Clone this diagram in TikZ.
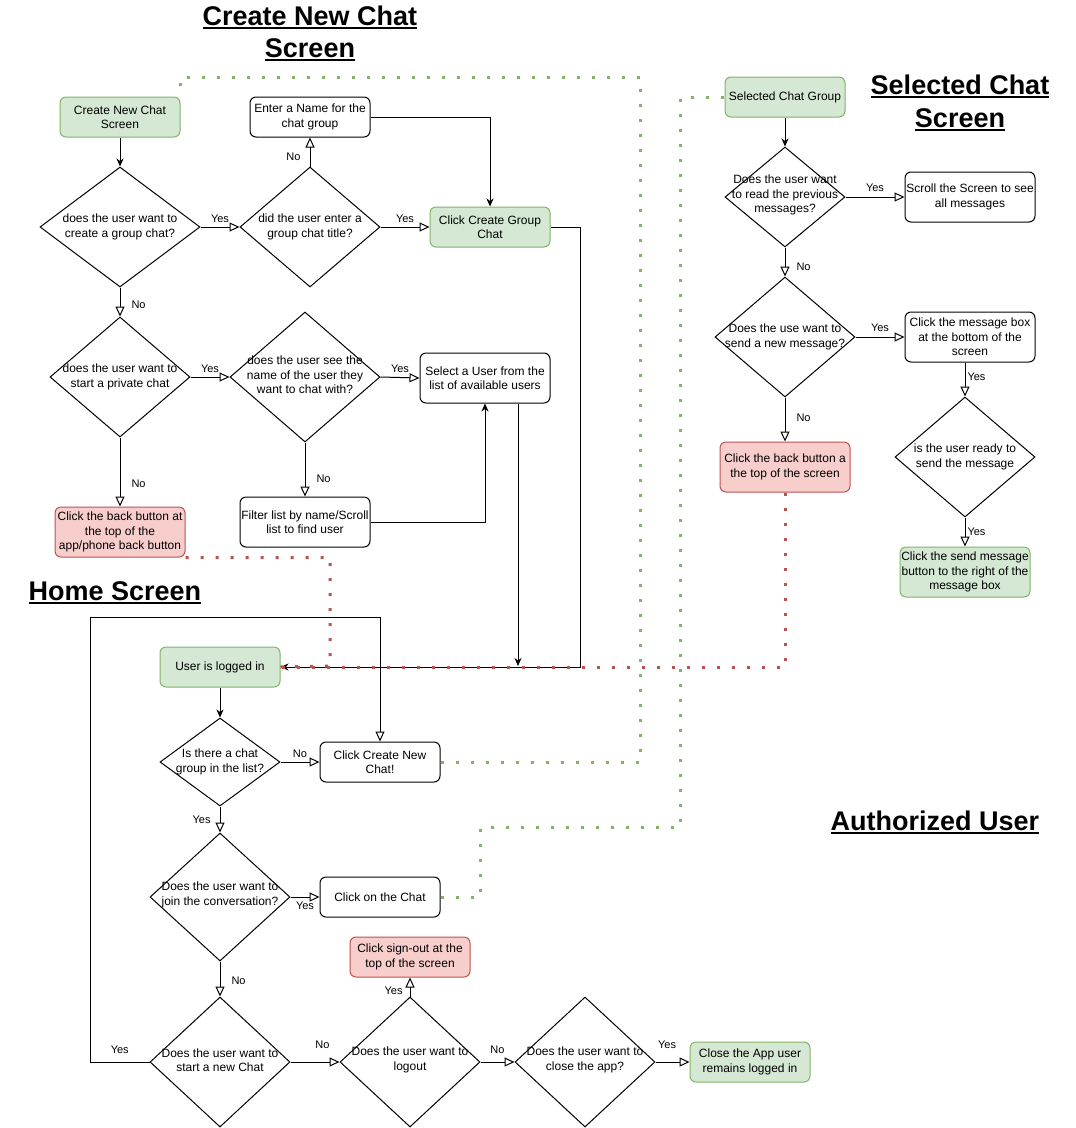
\documentclass[tikz,border=0pt]{standalone}
\usepackage{fontspec}
\setmainfont{Liberation Sans}
\usetikzlibrary{arrows.meta,shapes.geometric,calc}
\definecolor{gfill}{HTML}{D5E8D4}
\definecolor{gline}{HTML}{82B366}
\definecolor{rfill}{HTML}{F8CECC}
\definecolor{rline}{HTML}{B85450}
\newcommand\myul[1]{\setbox0\hbox{#1}\rlap{\rule[-4pt]{\wd0}{2pt}}\box0}
\tikzset{
 box/.style={draw, rounded corners=6pt, minimum width=120, minimum height=40, align=center, inner sep=1pt, font=\fontsize{12}{14.5}\selectfont, line width=1pt},
 gbox/.style={box, fill=gfill, draw=gline},
 rbox/.style={box, fill=rfill, draw=rline},
 dia/.style={draw, diamond, inner sep=0pt, line width=1pt},
 dtxt/.style={align=center, font=\fontsize{12}{14.5}\selectfont, inner sep=0pt},
 lbl/.style={font=\fontsize{11}{13}\selectfont, inner sep=1pt},
 oarr/.style={line width=1pt, -{Triangle[open, length=10pt, width=9pt]}},
 farr/.style={line width=1pt, -{Stealth[length=8pt, width=7pt, inset=2.5pt]}},
 gdot/.style={draw=gline, line width=3pt, dash pattern=on 3pt off 12pt},
 rdot/.style={draw=rline, line width=3pt, dash pattern=on 3pt off 12pt},
 ttl/.style={font=\fontsize{27}{32}\bfseries\selectfont, anchor=base, inner sep=0pt},
}
\begin{document}
\begin{tikzpicture}[x=1pt,y=-1pt]
\useasboundingbox (0,0) rectangle (1076,1128);
\fill[white] (0,0) rectangle (1076,1128);

% titles
\node[ttl] (t1a) at (310,25) {\myul{Create New Chat}};
\node[ttl] (t1b) at (310,57) {\myul{Screen}};
\node[ttl] (t2a) at (960,94) {\myul{Selected Chat}};
\node[ttl] (t2b) at (960,127) {\myul{Screen}};
\node[ttl] (t3) at (115,600) {\myul{Home Screen}};
\node[ttl] (t4) at (935,830) {\myul{Authorized User}};

% ---------- Create New Chat screen ----------
\node[gbox] (n1) at (120,117) {Create New Chat\\Screen};
\node[dia, minimum width=160, minimum height=120] (d1) at (120,227) {};
\node[dtxt] (d1t) at (d1) {does the user want to\\create a group chat?};
\node[dia, minimum width=140, minimum height=120] (d2) at (310,227) {};
\node[dtxt] (d2t) at (d2) {did the user enter a\\group chat title?};
\node[box] (n2) at (310,117) {Enter a Name for the\\chat group};
\node[gbox] (n3) at (490,227) {Click Create Group\\Chat};
\node[dia, minimum width=140, minimum height=120] (d3) at (120,377) {};
\node[dtxt] (d3t) at (d3) {does the user want to\\start a private chat};
\node[dia, minimum width=150, minimum height=130] (d4) at (305,377) {};
\node[dtxt] (d4t) at (305,375) {does the user see the\\name of the user they\\want to chat with?};
\node[box, minimum width=130, minimum height=50] (n5) at (485,378) {Select a User from the\\list of available users};
\node[box, minimum width=130, minimum height=50] (n6) at (305,522) {Filter list by name/Scroll\\list to find user};
\node[rbox, minimum width=130, minimum height=50] (n4) at (120,532) {Click the back button at\\the top of the\\app/phone back button};

% ---------- Home screen ----------
\node[gbox] (h1) at (220,667) {User is logged in};
\node[dia, minimum width=120, minimum height=88] (d5) at (220,762) {};
\node[dtxt] (d5t) at (d5) {Is there a chat\\group in the list?};
\node[box] (h2) at (380,762) {Click Create New\\Chat!};
\node[dia, minimum width=140, minimum height=128] (d6) at (220,897) {};
\node[dtxt] (d6t) at (220,895) {Does the user want to\\join the conversation?};
\node[box] (h3) at (380,897) {Click on the Chat};
\node[dia, minimum width=140, minimum height=130] (d7) at (220,1062) {};
\node[dtxt] (d7t) at (220,1060) {Does the user want to\\start a new Chat};
\node[dia, minimum width=140, minimum height=130] (d8) at (410,1062) {};
\node[dtxt] (d8t) at (410,1060) {Does the user want to\\logout};
\node[rbox] (h4) at (410,957) {Click sign-out at the\\top of the screen};
\node[dia, minimum width=140, minimum height=130] (d9) at (585,1062) {};
\node[dtxt] (d9t) at (585,1060) {Does the user want to\\close the app?};
\node[gbox] (h5) at (750,1062) {Close the App user\\remains logged in};

% ---------- Selected chat screen ----------
\node[gbox] (s1) at (785,97) {Selected Chat Group};
\node[dia, minimum width=120, minimum height=100] (d10) at (785,197) {};
\node[dtxt] (d10t) at (785,195) {Does the user want\\to read the previous\\messages?};
\node[box, minimum width=130, minimum height=50] (s2) at (970,197) {Scroll the Screen to see\\all messages};
\node[dia, minimum width=140, minimum height=120] (d11) at (785,337) {};
\node[dtxt] (d11t) at (d11) {Does the use want to\\send a new message?};
\node[box, minimum width=130, minimum height=50] (s3) at (970,337) {Click the message box\\at the bottom of the\\screen};
\node[rbox, minimum width=130, minimum height=50] (s4) at (785,467) {Click the back button a\\the top of the screen};
\node[dia, minimum width=140, minimum height=120] (d12) at (965,457) {};
\node[dtxt] (d12t) at (d12) {is the user ready to\\send the message};
\node[gbox, minimum width=130, minimum height=50] (s5) at (965,572) {Click the send message\\button to the right of the\\message box};

\coordinate (j1) at (518,666);
\coordinate (lp) at (90,617);

% ---------- connectors: create new chat ----------
\draw[farr] (n1.south) -- (d1.north);
\draw[oarr] (d1.east) -- node[lbl, above=3pt] {Yes} (d2.west);
\draw[oarr] (d2.east) -- node[lbl, above=3pt] {Yes} (n3.west);
\draw[oarr] (d2.north) -- node[lbl, left=8pt, pos=0.35] {No} (n2.south);
\draw[farr] (n2.east) -| (n3.north);
\draw[oarr] (d1.south) -- node[lbl, right=10pt, pos=0.6] {No} (d3.north);
\draw[oarr] (d3.east) -- node[lbl, above=3pt] {Yes} (d4.west);
\draw[oarr] (d4.east) -- node[lbl, above=3pt] {Yes} (n5.west);
\draw[oarr] (d4.south) -- node[lbl, right=10pt, pos=0.68] {No} (n6.north);
\draw[oarr] (d3.south) -- node[lbl, right=10pt, pos=0.67] {No} (n4.north);
\draw[farr] (n6.east) -| (n5.south);
\draw[farr] (n5.south -| j1) -- (j1);
\draw[farr] (n3.east) -- ++(30,0) |- (h1.east);

% ---------- connectors: home ----------
\draw[farr] (h1.south) -- (d5.north);
\draw[oarr] (d5.east) -- node[lbl, above=3pt] {No} (h2.west);
\draw[oarr] (d5.south) -- node[lbl, left=8pt] {Yes} (d6.north);
\draw[oarr] (d6.east) -- node[lbl, below=3pt] {Yes} (h3.west);
\draw[oarr] (d6.south) -- node[lbl, right=10pt, pos=0.55] {No} (d7.north);
\draw[oarr] (d7.west) -- node[lbl, above=7pt] {Yes} (d7.west -| lp) -- (lp) -| (h2.north);
\draw[oarr] (d7.east) -- node[lbl, above=12pt, pos=0.65] {No} (d8.west);
\draw[oarr] (d8.east) -- node[lbl, above=7pt] {No} (d9.west);
\draw[oarr] (d9.east) -- node[lbl, above=12pt, pos=0.34] {Yes} (h5.west);
\draw[oarr] (d8.north) -- node[lbl, left=6pt, pos=0.3] {Yes} (h4.south);

% ---------- connectors: selected chat ----------
\draw[farr] (s1.south) -- (d10.north);
\draw[oarr] (d10.east) -- node[lbl, above=4pt] {Yes} (s2.west);
\draw[oarr] (d10.south) -- node[lbl, right=10pt, pos=0.67] {No} (d11.north);
\draw[oarr] (d11.east) -- node[lbl, above=4pt] {Yes} (s3.west);
\draw[oarr] (d11.south) -- node[lbl, right=10pt, pos=0.45] {No} (s4.north);
\draw[oarr] (s3.south -| d12.north) -- node[lbl, right=1pt, pos=0.43] {Yes} (d12.north);
\draw[oarr] (d12.south) -- node[lbl, right=1pt, pos=0.5] {Yes} (s5.north);

% ---------- dotted screen links ----------
\draw[rdot] (n4.south east) -| (330,666) -- (h1.east);
\draw[rdot] (s4.south) |- (h1.east);
\draw[gdot] (h2.east) -| (640,77) -| (n1.north east);
\draw[gdot] (h3.east) -| (480,827) -| (680,97) -- (s1.west);
\end{tikzpicture}
\end{document}
